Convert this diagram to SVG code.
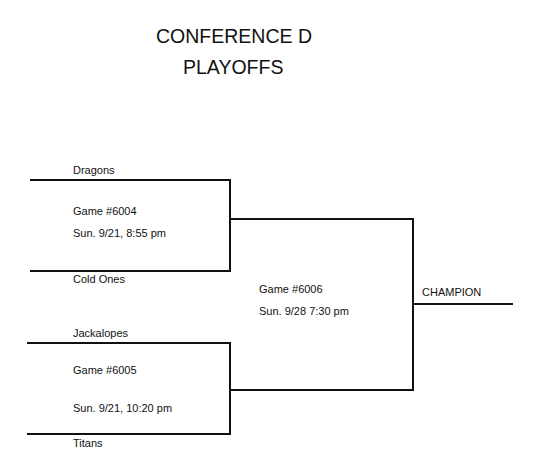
<svg xmlns="http://www.w3.org/2000/svg" width="540" height="472" viewBox="0 0 540 472">
<style>
.t{font-family:"Liberation Sans",Arial,sans-serif;font-size:11px;fill:#111}
.h{font-family:"Liberation Sans",Arial,sans-serif;font-size:19.5px;fill:#111}
.l{fill:none;stroke:#111;stroke-width:2}
</style>
<rect width="540" height="472" fill="#fff"/>
<g id="title">
<text class="h" x="156" y="43">CONFERENCE D</text>
<text class="h" x="183" y="74">PLAYOFFS</text>
</g>
<g id="connectors">
<path class="l" d="M30 180H230V271H30"/>
<path class="l" d="M27 343H230V434H27"/>
<path class="l" d="M230 219H413V390H230"/>
<path class="l" d="M230 180V271M230 343V434"/>
<path class="l" d="M413 304H513"/>
</g>
<g id="game6004">
<text class="t" x="73" y="174">Dragons</text>
<text class="t" x="73" y="215">Game #6004</text>
<text class="t" x="73" y="237">Sun. 9/21, 8:55 pm</text>
<text class="t" x="73" y="283">Cold Ones</text>
</g>
<g id="game6005">
<text class="t" x="73" y="337">Jackalopes</text>
<text class="t" x="73" y="374">Game #6005</text>
<text class="t" x="73" y="412">Sun. 9/21, 10:20 pm</text>
<text class="t" x="73" y="447">Titans</text>
</g>
<g id="game6006">
<text class="t" x="259" y="293">Game #6006</text>
<text class="t" x="259" y="315">Sun. 9/28 7:30 pm</text>
</g>
<g id="champion">
<text class="t" x="422" y="296">CHAMPION</text>
</g>
</svg>
